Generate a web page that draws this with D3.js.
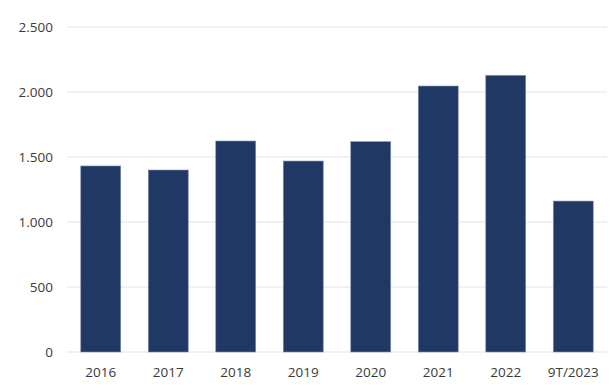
<!DOCTYPE html>
<html><head><meta charset="utf-8">
<script src="https://cdn.jsdelivr.net/npm/d3@7"></script>
<style>body{margin:0;background:#fff}svg{display:block}text{font-family:"Open Sans",sans-serif}</style>
</head><body><div id="chart"></div>
<script>
const categories = ["2016","2017","2018","2019","2020","2021","2022","9T/2023"];
const values = [1431, 1400, 1623, 1469, 1618, 2046, 2128, 1161];
const yTicks = [0, 500, 1000, 1500, 2000, 2500];

const W = 610, H = 388;
const m = {left: 67, right: 3, top: 27, bottom: 36};
const svg = d3.select("#chart").append("svg").attr("width", W).attr("height", H);
const x = d3.scaleBand().domain(categories).range([m.left, W - m.right]).paddingInner(0.408).paddingOuter(0.204);
const y = d3.scaleLinear().domain([0, 2500]).range([H - m.bottom, m.top]);
const fmt = d => d3.format(",")(d).replace(/,/g, ".");

const g = svg.append("g");
g.selectAll("line.grid").data(yTicks).join("line").attr("class","grid")
  .attr("x1", m.left).attr("x2", W - m.right)
  .attr("y1", d => y(d)).attr("y2", d => y(d))
  .attr("stroke", "#e3e3e3").attr("stroke-width", 1);

const yAxis = svg.append("g").attr("transform", `translate(${m.left},0)`)
  .call(d3.axisLeft(y).tickValues(yTicks).tickFormat(fmt).tickSize(0).tickPadding(14));
yAxis.select(".domain").remove();
yAxis.selectAll("text").attr("font-size", 13.5).attr("fill", "#3a3a3a");

svg.selectAll("rect.bar").data(values).join("rect").attr("class","bar")
  .attr("x", (d,i) => x(categories[i])).attr("width", x.bandwidth())
  .attr("y", d => y(d)).attr("height", d => y(0) - y(d))
  .attr("fill", "#203864").attr("stroke", "#8090b0").attr("stroke-width", 0.6);

const xAxis = svg.append("g").attr("transform", `translate(0,${y(0)})`)
  .call(d3.axisBottom(x).tickSize(0).tickPadding(15));
xAxis.select(".domain").remove();
xAxis.selectAll("text").attr("font-size", 13.5).attr("fill", "#3a3a3a");
</script></body></html>
